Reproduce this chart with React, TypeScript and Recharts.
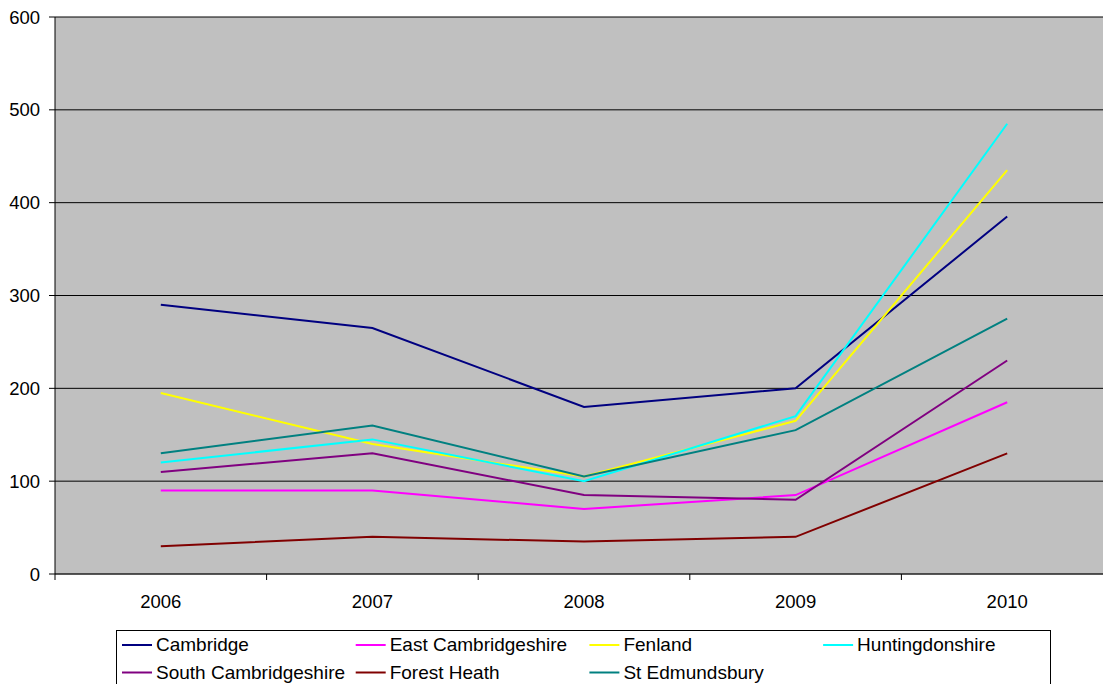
import { LineChart, Line, CartesianGrid, XAxis, YAxis } from 'recharts';

const years = ['2006', '2007', '2008', '2009', '2010'];

const cambridge = [290, 265, 180, 200, 385];
const eastCambridgeshire = [90, 90, 70, 85, 185];
const fenland = [195, 140, 105, 165, 435];
const huntingdonshire = [120, 145, 100, 170, 485];
const southCambridgeshire = [110, 130, 85, 80, 230];
const forestHeath = [30, 40, 35, 40, 130];
const stEdmundsbury = [130, 160, 105, 155, 275];

const yTicks = [0, 100, 200, 300, 400, 500, 600];

const series = [
  { key: 'cambridge', name: 'Cambridge', color: '#000080', values: cambridge },
  { key: 'eastCambs', name: 'East Cambridgeshire', color: '#FF00FF', values: eastCambridgeshire },
  { key: 'fenland', name: 'Fenland', color: '#FFFF00', values: fenland },
  { key: 'hunts', name: 'Huntingdonshire', color: '#00FFFF', values: huntingdonshire },
  { key: 'southCambs', name: 'South Cambridgeshire', color: '#800080', values: southCambridgeshire },
  { key: 'forestHeath', name: 'Forest Heath', color: '#800000', values: forestHeath },
  { key: 'stEdmundsbury', name: 'St Edmundsbury', color: '#008080', values: stEdmundsbury },
];

const data = years.map((year, i) => {
  const row: Record<string, string | number> = { year };
  series.forEach((s) => {
    row[s.key] = s.values[i];
  });
  return row;
});

const FONT = 'Arial, "Liberation Sans", sans-serif';
const CHART_W = 1113;
const AXIS_W = 55;
const BAND = (CHART_W - AXIS_W) / years.length;

function YearTick(props: any) {
  const { x, y, payload } = props;
  const left = x - BAND / 2;
  return (
    <g>
      <line x1={left} y1={y - 6} x2={left} y2={y} stroke="#000" />
      <text x={x} y={y + 27.5} textAnchor="middle" fontSize={18.5} fontFamily={FONT} fill="#000">
        {payload.value}
      </text>
    </g>
  );
}

function LegendBox() {
  return (
    <svg width={936} height={60} style={{ position: 'absolute', left: 116, top: 630 }}>
      <rect x={0.5} y={0.5} width={934} height={80} fill="#fff" stroke="#000" />
      {series.map((s, i) => {
        const col = i % 4;
        const row = Math.floor(i / 4);
        const lx = 6 + col * 233.7;
        const ly = 15 + row * 27.5;
        return (
          <g key={s.key}>
            <line x1={lx} y1={ly} x2={lx + 30} y2={ly} stroke={s.color} strokeWidth={2} />
            <text x={lx + 34} y={ly + 6} fontSize={19} fontFamily={FONT} fill="#000">
              {s.name}
            </text>
          </g>
        );
      })}
    </svg>
  );
}

export default function App() {
  return (
    <div
      style={{
        position: 'absolute',
        left: 0,
        top: 0,
        width: 1103,
        height: 684,
        overflow: 'hidden',
        background: '#fff',
      }}
    >
      <LineChart
        width={CHART_W}
        height={684}
        data={data}
        margin={{ top: 17, right: 0, bottom: 0, left: 0 }}
      >
        <CartesianGrid vertical={false} fill="#C0C0C0" stroke="#000" fillOpacity={1} />
        <XAxis
          dataKey="year"
          scale="band"
          height={110}
          tickSize={6}
          tickMargin={0}
          tickLine={false}
          axisLine={{ stroke: '#333' }}
          tick={<YearTick />}
          interval={0}
        />
        <YAxis
          width={AXIS_W}
          domain={[0, 600]}
          ticks={yTicks}
          tickSize={6}
          tickMargin={9}
          axisLine={{ stroke: '#000' }}
          tickLine={{ stroke: '#000' }}
          tick={{ fill: '#000', fontSize: 18.5, fontFamily: FONT }}
        />
        {series.map((s) => (
          <Line
            key={s.key}
            dataKey={s.key}
            name={s.name}
            type="linear"
            stroke={s.color}
            strokeWidth={2}
            dot={false}
            activeDot={false}
            isAnimationActive={false}
          />
        ))}
      </LineChart>
      <LegendBox />
    </div>
  );
}
